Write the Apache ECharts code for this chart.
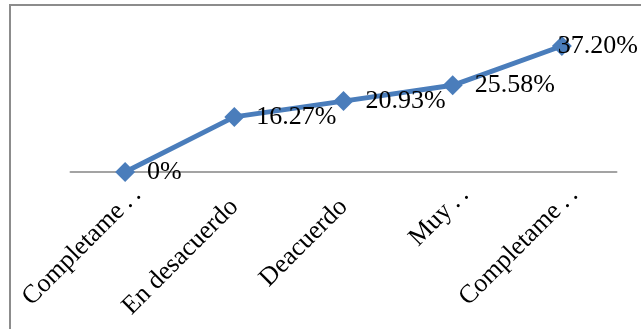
<!DOCTYPE html>
<html>
<head>
<meta charset="utf-8">
<script src="https://cdn.jsdelivr.net/npm/echarts@6/dist/echarts.min.js"></script>
<style>
  html, body { margin: 0; padding: 0; background: #fff; }
  #chart { width: 641px; height: 329px; }
</style>
</head>
<body>
<div id="chart"></div>
<script>
// Category tick labels (as shown on the axis) and their percentages
const categories = ['Completame\u2009.\u2009.', 'En desacuerdo', 'Deacuerdo', 'Muy\u2009.\u2009.', 'Completame\u2009.\u2009.'];
const values = [0, 16.27, 20.93, 25.58, 37.20];
const valueLabels = ['0%', '16.27%', '20.93%', '25.58%', '37.20%'];

const W = 641;
const serif = '"Liberation Serif", "Times New Roman", serif';

// truncated names sit a little further along their slant
const axisData = categories.map(c =>
  c.endsWith('.') ? { value: c, textStyle: { padding: [0, -17, 0, 0] } } : c
);

const chart = echarts.init(document.getElementById('chart'), null, { renderer: 'canvas' });

chart.setOption({
  animation: false,
  backgroundColor: '#ffffff',
  grid: { left: 70.5, right: 24.5, top: 36.5, bottom: 157, containLabel: false },
  xAxis: {
    type: 'category',
    data: axisData,
    boundaryGap: true,
    axisLine: { show: true, lineStyle: { color: '#a3a3a3', width: 2 } },
    axisTick: { show: false },
    splitLine: { show: false },
    axisLabel: {
      interval: 0,
      rotate: 45,
      margin: 31,
      fontFamily: serif,
      fontSize: 26,
      color: '#000'
    }
  },
  yAxis: {
    type: 'value',
    min: 0,
    max: 40,
    show: false,
    splitLine: { show: false }
  },
  series: [{
    type: 'line',
    data: values,
    symbol: 'diamond',
    symbolSize: 20,
    lineStyle: { color: '#4a7dbb', width: 5 },
    itemStyle: { color: '#4a7dbb' },
    label: {
      show: true,
      position: 'right',
      distance: 12,
      fontFamily: serif,
      fontSize: 26,
      color: '#000',
      formatter: p => valueLabels[p.dataIndex]
    },
    // keep labels inside the chart area, pulling them left when they overflow
    labelLayout: p => {
      const r = p.labelRect;
      if (r.x + r.width > W - 3) return { x: W - 3 - r.width, y: r.y };
      return {};
    }
  }],
  graphic: [{
    type: 'rect',
    shape: { x: 10, y: 5, width: 700, height: 400 },
    style: { fill: 'none', stroke: '#8c8c8c', lineWidth: 2 },
    silent: true
  }]
});
</script>
</body>
</html>
